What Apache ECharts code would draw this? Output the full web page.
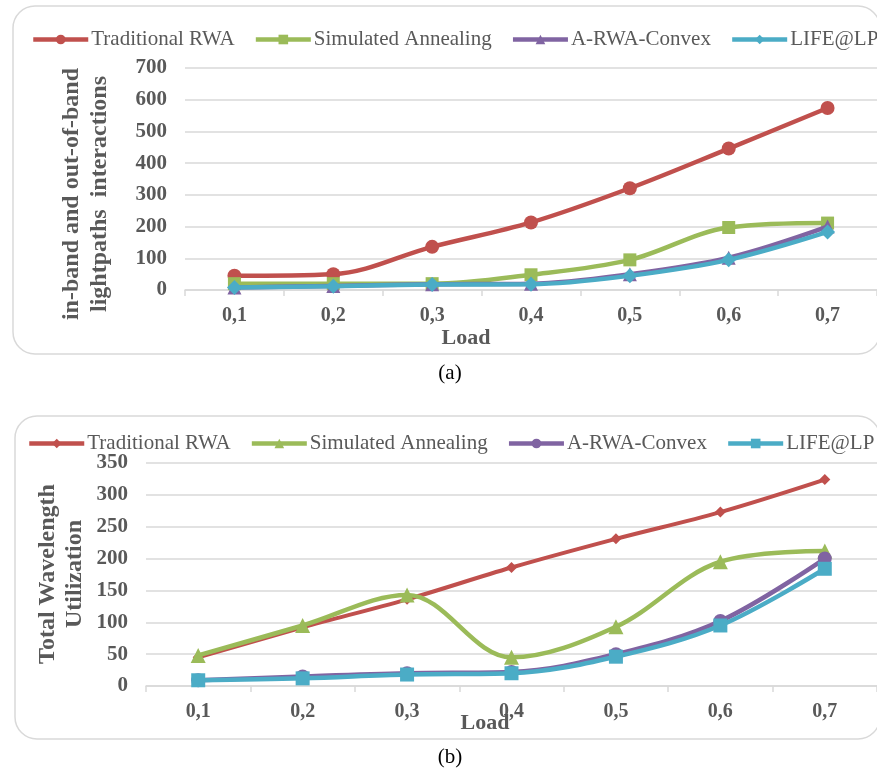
<!DOCTYPE html>
<html>
<head>
<meta charset="utf-8">
<script src="https://cdn.jsdelivr.net/npm/echarts@6/dist/echarts.min.js"></script>
<style>
  html, body { margin: 0; padding: 0; background: #fff; }
  #chartA { position: absolute; left: 0; top: 0; width: 877px; height: 385px; }
  #chartB { position: absolute; left: 0; top: 385px; width: 877px; height: 386px; }
</style>
</head>
<body>
<div id="chartA"></div>
<div id="chartB"></div>
<script>
// 数据
var loads = ['0,1', '0,2', '0,3', '0,4', '0,5', '0,6', '0,7']
var seriesNames = ['Traditional RWA', 'Simulated Annealing', 'A-RWA-Convex', 'LIFE@LP']

// (a) in-band and out-of-band lightpaths interactions
var rwaA = [45, 50, 136, 213, 321, 446, 574]
var saA = [20, 20, 20, 48, 95, 197, 211]
var convexA = [8, 13, 18, 20, 50, 102, 200]
var lifeA = [8, 12, 17, 18, 45, 95, 183]

// (b) total wavelength utilization
var rwaB = [45, 92, 136, 186, 231, 273, 324]
var saB = [48, 95, 143, 45, 93, 195, 212]
var convexB = [9, 15, 20, 22, 50, 102, 200]
var lifeB = [9, 12, 18, 20, 46, 95, 184]

var colors = ['#C0504D', '#9BBB59', '#8064A2', '#4BACC6']
var gray = '#595959'
var serif = '"Liberation Serif", "Times New Roman", serif'
var labelStyle = { fontFamily: serif, fontSize: 20, fontWeight: 'bold', color: gray }

function makeSeries(name, data, idx, symbol, size, width) {
  return {
    name: name,
    type: 'line',
    data: data,
    smooth: 0.35,
    symbol: symbol,
    symbolSize: size,
    lineStyle: { width: width, color: colors[idx] },
    itemStyle: { color: colors[idx] },
    z: 10 + idx
  }
}

// 每个子图的公共部分
function buildOption(cfg) {
  return {
    animation: false,
    color: colors,
    legend: {
      top: cfg.legendTop,
      left: cfg.legendLeft,
      width: 1000,   // 不换行，右边被裁掉
      itemWidth: 55,
      itemHeight: 12,
      itemGap: 19,
      lineStyle: { width: 4.5 },
      textStyle: { fontFamily: serif, fontSize: 21, color: gray, padding: [0, 0, 0, -2] },
      data: seriesNames
    },
    grid: cfg.grid,
    xAxis: {
      type: 'category',
      data: loads,
      boundaryGap: true,
      axisLine: { lineStyle: { color: '#d9d9d9', width: 1.5 } },
      axisTick: { show: true, length: 6, lineStyle: { color: '#d9d9d9', width: 1.5 } },
      axisLabel: Object.assign({ margin: 16 }, labelStyle)
    },
    yAxis: {
      type: 'value',
      min: 0,
      max: cfg.yMax,
      interval: cfg.yStep,
      axisLine: { show: false },
      axisTick: { show: false },
      splitLine: { lineStyle: { color: '#d9d9d9', width: 1.5 } },
      axisLabel: Object.assign({ margin: 18 }, labelStyle, { fontSize: 21 })
    },
    series: cfg.series,
    graphic: [
      { type: 'rect', silent: true, z: -1, shape: cfg.frame,
        style: { fill: 'none', stroke: '#d9d9d9', lineWidth: 1.5 } },
      { type: 'text', x: cfg.yTitle.x, y: cfg.yTitle.y, rotation: Math.PI / 2,
        style: { text: cfg.yTitle.text, font: 'bold ' + cfg.yTitle.size + 'px ' + serif,
          fill: gray, align: 'center', verticalAlign: 'middle', lineHeight: cfg.yTitle.lh } },
      { type: 'text', x: cfg.xTitle[0], y: cfg.xTitle[1],
        style: { text: 'Load', font: 'bold 22px ' + serif, fill: gray, align: 'center', verticalAlign: 'middle' } },
      { type: 'text', x: 450, y: cfg.caption[1],
        style: { text: cfg.caption[0], font: '21px ' + serif, fill: '#000', align: 'center', verticalAlign: 'middle' } }
    ]
  }
}

var chartA = echarts.init(document.getElementById('chartA'))
chartA.setOption(buildOption({
  legendTop: 24, legendLeft: 26,
  grid: { left: 185, top: 68, width: 700, height: 222 },
  yMax: 700, yStep: 100,
  series: [
    makeSeries(seriesNames[0], rwaA, 0, 'circle', 14, 4.5),
    makeSeries(seriesNames[1], saA, 1, 'rect', 13, 4.5),
    makeSeries(seriesNames[2], convexA, 2, 'triangle', 14, 4.5),
    makeSeries(seriesNames[3], lifeA, 3, 'diamond', 15, 4.5)
  ],
  frame: { x: 13, y: 6, width: 867, height: 348, r: 22 },
  yTitle: { x: 86, y: 194, size: 24, lh: 28, text: 'in-band and out-of-band\nlightpaths  interactions' },
  xTitle: [466, 338],
  caption: ['(a)', 373]
}))

var chartB = echarts.init(document.getElementById('chartB'))
chartB.setOption(buildOption({
  legendTop: 43, legendLeft: 22,
  grid: { left: 146, top: 78, width: 740, height: 223 },
  yMax: 350, yStep: 50,
  series: [
    makeSeries(seriesNames[0], rwaB, 0, 'diamond', 11, 4),
    makeSeries(seriesNames[1], saB, 1, 'triangle', 15, 4.5),
    makeSeries(seriesNames[2], convexB, 2, 'circle', 14, 4.5),
    makeSeries(seriesNames[3], lifeB, 3, 'rect', 14, 4.5)
  ],
  frame: { x: 15, y: 31, width: 865, height: 323, r: 22 },
  yTitle: { x: 61, y: 189, size: 24, lh: 27, text: 'Total Wavelength\nUtilization' },
  xTitle: [485, 338],
  caption: ['(b)', 372]
}))
</script>
</body>
</html>
